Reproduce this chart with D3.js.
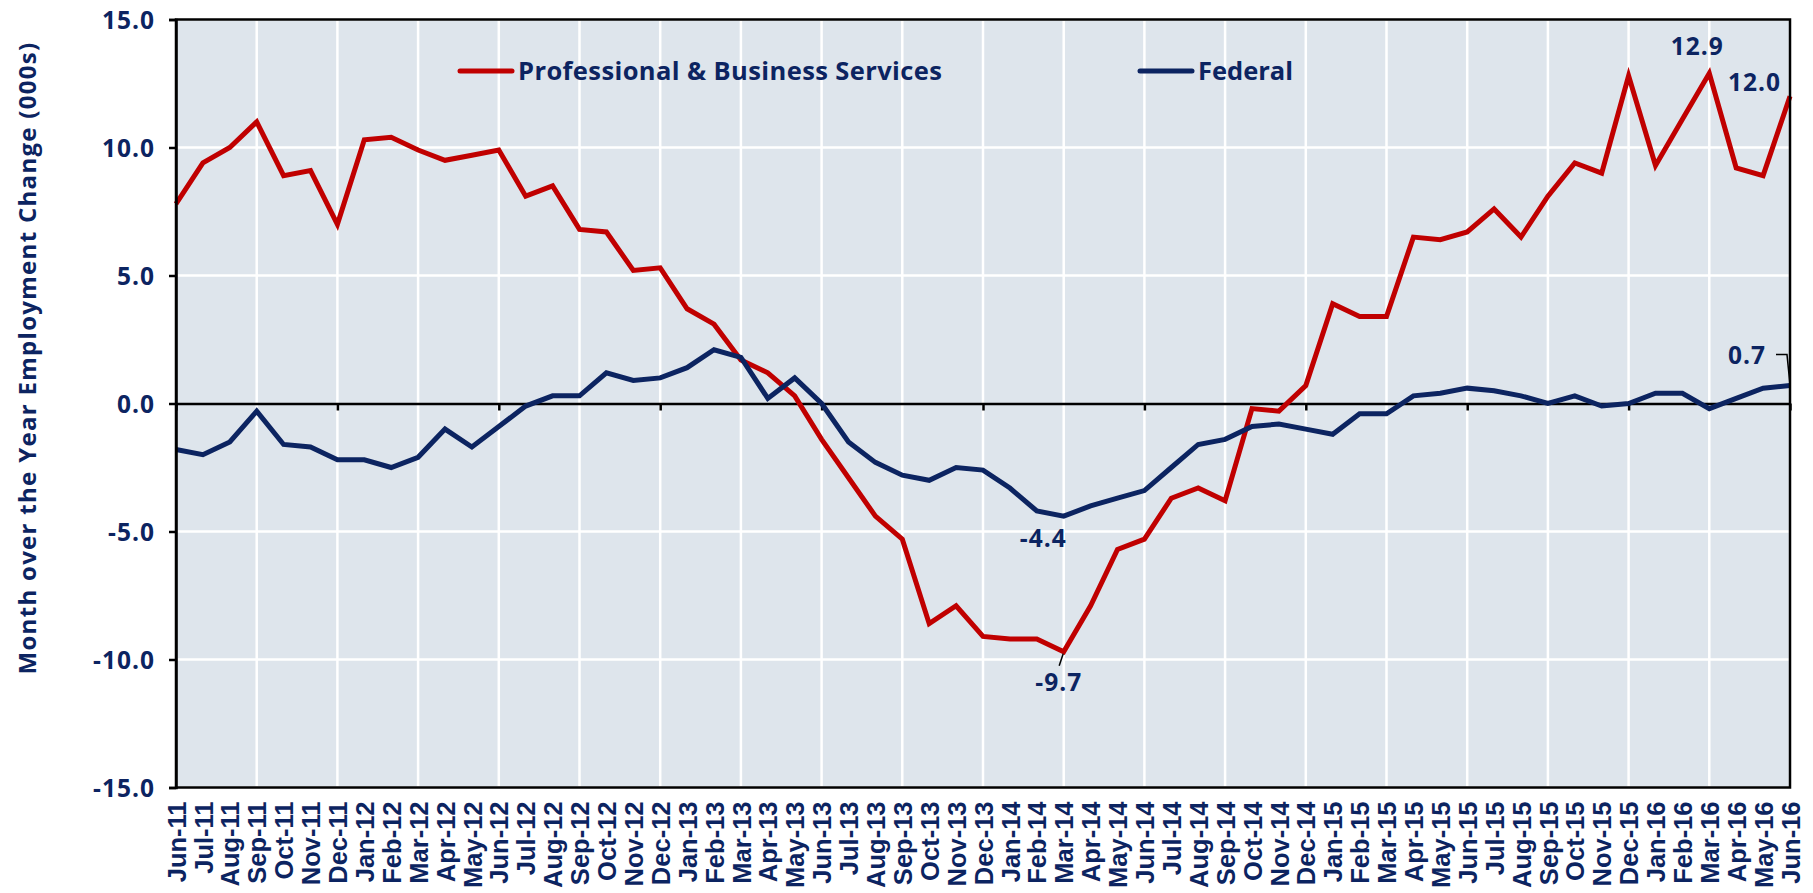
<!DOCTYPE html>
<html>
<head>
<meta charset="utf-8">
<script src="https://cdn.jsdelivr.net/npm/d3@7"></script>
<style>
    body { margin: 0; background: #fff; }
    text { fill: #0c2461; font-weight: bold; }
</style>
</head>
<body>
<svg id="chart"></svg>
<script>
const months = [
    "Jun-11", "Jul-11", "Aug-11", "Sep-11", "Oct-11", "Nov-11", "Dec-11",
    "Jan-12", "Feb-12", "Mar-12", "Apr-12", "May-12", "Jun-12", "Jul-12", "Aug-12", "Sep-12", "Oct-12", "Nov-12", "Dec-12",
    "Jan-13", "Feb-13", "Mar-13", "Apr-13", "May-13", "Jun-13", "Jul-13", "Aug-13", "Sep-13", "Oct-13", "Nov-13", "Dec-13",
    "Jan-14", "Feb-14", "Mar-14", "Apr-14", "May-14", "Jun-14", "Jul-14", "Aug-14", "Sep-14", "Oct-14", "Nov-14", "Dec-14",
    "Jan-15", "Feb-15", "Mar-15", "Apr-15", "May-15", "Jun-15", "Jul-15", "Aug-15", "Sep-15", "Oct-15", "Nov-15", "Dec-15",
    "Jan-16", "Feb-16", "Mar-16", "Apr-16", "May-16", "Jun-16"
];

const proBusiness = [
    7.8, 9.4, 10.0, 11.0, 8.9, 9.1, 7.0,
    10.3, 10.4, 9.9, 9.5, 9.7, 9.9, 8.1, 8.5, 6.8, 6.7, 5.2, 5.3,
    3.7, 3.1, 1.7, 1.2, 0.3, -1.4, -2.9, -4.4, -5.3, -8.6, -7.9, -9.1,
    -9.2, -9.2, -9.7, -7.9, -5.7, -5.3, -3.7, -3.3, -3.8, -0.2, -0.3, 0.7,
    3.9, 3.4, 3.4, 6.5, 6.4, 6.7, 7.6, 6.5, 8.1, 9.4, 9.0, 12.8,
    9.3, 11.1, 12.9, 9.2, 8.9, 12.0
];

const federal = [
    -1.8, -2.0, -1.5, -0.3, -1.6, -1.7, -2.2,
    -2.2, -2.5, -2.1, -1.0, -1.7, -0.9, -0.1, 0.3, 0.3, 1.2, 0.9, 1.0,
    1.4, 2.1, 1.8, 0.2, 1.0, 0.0, -1.5, -2.3, -2.8, -3.0, -2.5, -2.6,
    -3.3, -4.2, -4.4, -4.0, -3.7, -3.4, -2.5, -1.6, -1.4, -0.9, -0.8, -1.0,
    -1.2, -0.4, -0.4, 0.3, 0.4, 0.6, 0.5, 0.3, 0.0, 0.3, -0.1, 0.0,
    0.4, 0.4, -0.2, 0.2, 0.6, 0.7
];

const yTicks = [-15, -10, -5, 0, 5, 10, 15];
const seriesNames = ["Professional & Business Services", "Federal"];

const red = "#c00000";
const navy = "#0c2461";

const width = 1813, height = 893;
const margin = { top: 19.5, right: 23, bottom: 105.5, left: 176 };
const plotW = width - margin.left - margin.right;
const plotH = height - margin.top - margin.bottom;

const svg = d3.select("#chart")
    .attr("width", width)
    .attr("height", height);

const x = d3.scalePoint()
    .domain(months)
    .range([margin.left, width - margin.right]);

const y = d3.scaleLinear()
    .domain([-15, 15])
    .range([height - margin.bottom, margin.top]);

// plot background
svg.append("rect")
    .attr("x", margin.left)
    .attr("y", margin.top)
    .attr("width", plotW)
    .attr("height", plotH)
    .attr("fill", "#dee5ec");

// gridlines
svg.append("g")
    .selectAll("line")
    .data(yTicks.filter(d => d !== 0))
    .enter().append("line")
    .attr("x1", margin.left)
    .attr("x2", width - margin.right)
    .attr("y1", d => y(d))
    .attr("y2", d => y(d))
    .attr("stroke", "#fff")
    .attr("stroke-width", 2.5);

svg.append("g")
    .selectAll("line")
    .data(months.filter((m, i) => i % 3 === 0))
    .enter().append("line")
    .attr("x1", d => x(d))
    .attr("x2", d => x(d))
    .attr("y1", margin.top)
    .attr("y2", height - margin.bottom)
    .attr("stroke", "#fff")
    .attr("stroke-width", 2.5);

// zero axis with half-year ticks
svg.append("g")
    .attr("transform", "translate(0," + y(0) + ")")
    .call(d3.axisBottom(x)
        .tickValues(months.filter((m, i) => i % 6 === 0))
        .tickSize(7)
        .tickSizeOuter(0)
        .tickFormat(""))
    .call(g => g.selectAll("line, path").attr("stroke", "#000").attr("stroke-width", 2.5));

// series lines
const line = d3.line()
    .x((d, i) => x(months[i]))
    .y(d => y(d));

svg.append("path")
    .datum(proBusiness)
    .attr("fill", "none")
    .attr("stroke", red)
    .attr("stroke-width", 5)
    .attr("d", line);

svg.append("path")
    .datum(federal)
    .attr("fill", "none")
    .attr("stroke", navy)
    .attr("stroke-width", 5)
    .attr("d", line);

// plot border
svg.append("rect")
    .attr("x", margin.left)
    .attr("y", margin.top)
    .attr("width", plotW)
    .attr("height", plotH)
    .attr("fill", "none")
    .attr("stroke", "#000")
    .attr("stroke-width", 2.5);

// y axis
svg.append("g")
    .attr("transform", "translate(" + margin.left + ",0)")
    .call(d3.axisLeft(y)
        .tickValues(yTicks)
        .tickSize(7)
        .tickPadding(14)
        .tickFormat(d => d.toFixed(1)))
    .call(g => g.select(".domain").attr("stroke", "#000").attr("stroke-width", 2.5))
    .call(g => g.selectAll(".tick line").attr("stroke", "#000").attr("stroke-width", 2.5))
    .call(g => g.selectAll("text")
        .attr("fill", navy)
        .style("font-family", "'Open Sans'")
        .style("font-size", "24.5px")
        .style("letter-spacing", "1px")
        .attr("dy", "0.36em"));

// month labels under the plot
svg.append("g")
    .attr("transform", "translate(0," + (height - margin.bottom) + ")")
    .call(d3.axisBottom(x).tickSize(0))
    .call(g => g.select(".domain").remove())
    .call(g => g.selectAll("text")
        .attr("fill", navy)
        .attr("transform", "rotate(-90)")
        .attr("x", -14)
        .attr("y", 0)
        .attr("dy", "0.36em")
        .style("text-anchor", "end")
        .style("font-family", "'Liberation Sans', Arial")
        .style("font-size", "25.5px"));

// y title
svg.append("text")
    .attr("transform", "translate(36,358) rotate(-90)")
    .attr("text-anchor", "middle")
    .style("font-family", "'Open Sans'")
    .style("font-size", "24px")
    .style("letter-spacing", "1.3px")
    .text("Month over the Year Employment Change (000s)");

// legend
const legend = svg.append("g")
    .selectAll("g")
    .data(seriesNames)
    .enter().append("g")
    .attr("transform", (d, i) => "translate(" + [460, 1140][i] + ",71)");

legend.append("line")
    .attr("x1", 0)
    .attr("x2", 52)
    .attr("stroke", (d, i) => i === 0 ? red : navy)
    .attr("stroke-width", 5)
    .attr("stroke-linecap", "round");

legend.append("text")
    .attr("x", 58)
    .attr("y", 9)
    .style("font-family", "'Open Sans'")
    .style("font-size", "25.5px")
    .style("letter-spacing", (d, i) => i === 0 ? "0.4px" : "0px")
    .text(d => d);

// callouts
const fmt = v => v.toFixed(1);
const iMar16 = months.indexOf("Mar-16");
const iJun16 = months.indexOf("Jun-16");
const iMar14 = months.indexOf("Mar-14");

const callouts = svg.append("g")
    .style("font-family", "'Open Sans'")
    .style("font-size", "24.5px")
    .style("letter-spacing", "1px");

callouts.append("text")
    .attr("x", x(months[iMar16]) - 12)
    .attr("y", y(proBusiness[iMar16]) - 18)
    .attr("text-anchor", "middle")
    .text(fmt(proBusiness[iMar16]));

callouts.append("text")
    .attr("x", x(months[iJun16]) - 9)
    .attr("y", y(proBusiness[iJun16]) - 5)
    .attr("text-anchor", "end")
    .text(fmt(proBusiness[iJun16]));

callouts.append("text")
    .attr("x", x(months[iJun16]) - 24)
    .attr("y", y(federal[iJun16]) - 22)
    .attr("text-anchor", "end")
    .text(fmt(federal[iJun16]));

callouts.append("path")
    .attr("fill", "none")
    .attr("stroke", "#000")
    .attr("stroke-width", 1.5)
    .attr("d", "M" + (x(months[iJun16]) - 14) + "," + (y(federal[iJun16]) - 31) +
        "h11L" + x(months[iJun16]) + "," + (y(federal[iJun16]) - 1));

callouts.append("text")
    .attr("x", x(months[iMar14]) + 3)
    .attr("y", y(federal[iMar14]) + 31)
    .attr("text-anchor", "end")
    .text(fmt(federal[iMar14]));

callouts.append("text")
    .attr("x", x(months[iMar14]) - 5)
    .attr("y", y(proBusiness[iMar14]) + 39)
    .attr("text-anchor", "middle")
    .text(fmt(proBusiness[iMar14]));

callouts.append("line")
    .attr("x1", x(months[iMar14]) - 0.5)
    .attr("y1", y(proBusiness[iMar14]) + 2)
    .attr("x2", x(months[iMar14]) - 4.5)
    .attr("y2", y(proBusiness[iMar14]) + 14)
    .attr("stroke", "#000")
    .attr("stroke-width", 1.5);
</script>
</body>
</html>
